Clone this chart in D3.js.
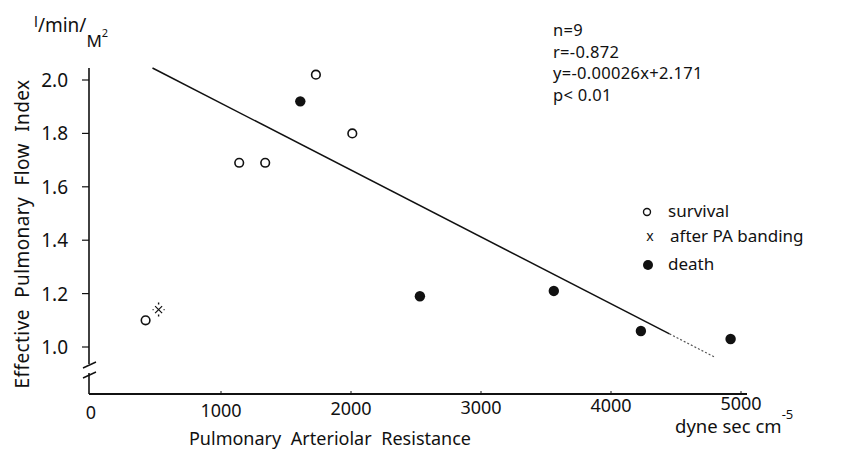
<!DOCTYPE html>
<html>
<head>
<meta charset="utf-8">
<script src="https://cdn.jsdelivr.net/npm/d3@7"></script>
<style>
  html, body { margin: 0; padding: 0; background: #fff; }
  svg text { font-family: "Noto Sans", "Open Sans", sans-serif; font-weight: 400; fill: #111; }
</style>
</head>
<body>
<div id="chart"></div>
<script>
// values
var survivalX = [420, 1140, 1340, 1730, 2010];
var survivalY = [1.10, 1.69, 1.69, 2.02, 1.80];
var bandingX = [520];
var bandingY = [1.14];
var deathX = [1610, 2530, 3560, 4230, 4920];
var deathY = [1.92, 1.19, 1.21, 1.06, 1.03];
var fitX = [473, 4794];
var fitY = [2.045, 0.963];
var fitFadeFrom = 4450;
var xTicks = [0, 1000, 2000, 3000, 4000, 5000];
var yTicks = [1.0, 1.2, 1.4, 1.6, 1.8, 2.0];
var statLines = ['n=9', 'r=-0.872', 'y=-0.00026x+2.171', 'p< 0.01'];
var legendLabels = ['survival', 'after PA banding', 'death'];

var width = 850, height = 454;

var svg = d3.select('#chart').append('svg')
  .attr('width', width)
  .attr('height', height);

var x = d3.scaleLinear().domain([0, 5000]).range([91, 741]);
var y = d3.scaleLinear().domain([1.0, 2.0]).range([347, 80]);

var axisY = 394, axisX = 89;

// y axis with break
var g = svg.append('g').attr('stroke', '#111').attr('fill', 'none');
g.append('line').attr('x1', axisX).attr('x2', axisX).attr('y1', 68).attr('y2', 364).attr('stroke-width', 1.6);
g.append('line').attr('x1', axisX).attr('x2', axisX).attr('y1', 373).attr('y2', axisY).attr('stroke-width', 1.6);
g.append('line').attr('x1', 83).attr('x2', 96).attr('y1', 368).attr('y2', 362).attr('stroke-width', 1.4);
g.append('line').attr('x1', 83).attr('x2', 96).attr('y1', 378).attr('y2', 372).attr('stroke-width', 1.4);
// x axis
g.append('line').attr('x1', axisX).attr('x2', 747).attr('y1', axisY).attr('y2', axisY).attr('stroke-width', 1.8);

g.selectAll('.ytick').data(yTicks).enter().append('line')
  .attr('x1', axisX - 7).attr('x2', axisX)
  .attr('y1', function (d) { return y(d); })
  .attr('y2', function (d) { return y(d); })
  .attr('stroke-width', 1.2);

g.selectAll('.xtick').data(xTicks.slice(1)).enter().append('line')
  .attr('x1', function (d) { return x(d); })
  .attr('x2', function (d) { return x(d); })
  .attr('y1', axisY - 3).attr('y2', axisY + 1)
  .attr('stroke-width', 1);

svg.selectAll('.ylab').data(yTicks).enter().append('text')
  .attr('x', 68)
  .attr('y', function (d) { return y(d) + 7; })
  .attr('text-anchor', 'end')
  .attr('font-size', 19)
  .text(function (d) { return d3.format('.1f')(d); });

svg.selectAll('.xlab').data(xTicks).enter().append('text')
  .attr('x', function (d) { return x(d); })
  .attr('y', function (d, i) { return 419 - i * 1.8; })
  .attr('text-anchor', 'middle')
  .attr('font-size', 18)
  .text(function (d) { return d; });

// axis titles
svg.append('text')
  .attr('transform', 'translate(29,234) rotate(-90)')
  .attr('text-anchor', 'middle')
  .attr('font-size', 19)
  .attr('letter-spacing', 0.4)
  .attr('word-spacing', 6)
  .text('Effective Pulmonary Flow Index');

svg.append('text')
  .attr('x', 330).attr('y', 445)
  .attr('text-anchor', 'middle')
  .attr('font-size', 18)
  .attr('word-spacing', 5)
  .text('Pulmonary Arteriolar Resistance');

var unitX = svg.append('text').attr('x', 675).attr('y', 433).attr('font-size', 18.5);
unitX.append('tspan').text('dyne sec cm');
unitX.append('tspan').attr('dy', -14).attr('font-size', 13).text('-5');

var unitY = svg.append('text').attr('x', 34).attr('font-size', 19);
unitY.append('tspan').attr('y', 27).attr('font-size', 15).text('l');
unitY.append('tspan').attr('y', 32).text('/min/');
unitY.append('tspan').attr('y', 47).attr('font-size', 17).text('M');
unitY.append('tspan').attr('y', 37).attr('font-size', 11).text('2');

// regression line
var fit = d3.scaleLinear().domain(fitX).range(fitY);
svg.append('line')
  .attr('x1', x(fitX[0])).attr('y1', y(fitY[0]))
  .attr('x2', x(fitFadeFrom)).attr('y2', y(fit(fitFadeFrom)))
  .attr('stroke', '#111').attr('stroke-width', 1.5);
svg.append('line')
  .attr('x1', x(fitFadeFrom)).attr('y1', y(fit(fitFadeFrom)))
  .attr('x2', x(fitX[1])).attr('y2', y(fitY[1]))
  .attr('stroke', '#555').attr('stroke-width', 1.2)
  .attr('stroke-dasharray', '2,2');

// points
svg.selectAll('.surv').data(d3.zip(survivalX, survivalY)).enter().append('circle')
  .attr('cx', function (d) { return x(d[0]); })
  .attr('cy', function (d) { return y(d[1]); })
  .attr('r', 4.3)
  .attr('fill', '#fff').attr('stroke', '#111').attr('stroke-width', 1.6);

svg.selectAll('.death').data(d3.zip(deathX, deathY)).enter().append('circle')
  .attr('cx', function (d) { return x(d[0]); })
  .attr('cy', function (d) { return y(d[1]); })
  .attr('r', 5.2)
  .attr('fill', '#111');

var band = svg.selectAll('.band').data(d3.zip(bandingX, bandingY)).enter().append('g')
  .attr('transform', function (d) { return 'translate(' + x(d[0]) + ',' + y(d[1]) + ')'; })
  .attr('stroke', '#111').attr('stroke-width', 1.2);
band.append('path').attr('d', 'M-3.5,-3.5L3.5,3.5M-3.5,3.5L3.5,-3.5');
band.append('path').attr('d', 'M0,-7L0,-5M0,5L0,7M-6,0L-5,0M5,0L6,0').attr('stroke-width', 1.4);

// statistics block
svg.selectAll('.stat').data(statLines).enter().append('text')
  .attr('x', 553)
  .attr('y', function (d, i) { return 36 + i * 21.5; })
  .attr('font-size', 16.5)
  .attr('letter-spacing', 0.3)
  .text(function (d) { return d; });

// legend
var legY = [212, 237, 265];
svg.append('circle').attr('cx', 647).attr('cy', legY[0]).attr('r', 3.5)
  .attr('fill', 'none').attr('stroke', '#111').attr('stroke-width', 1.4);
svg.append('text').attr('x', 650).attr('y', legY[1] + 4).attr('font-size', 14)
  .attr('text-anchor', 'middle').text('x');
svg.append('circle').attr('cx', 648).attr('cy', legY[2]).attr('r', 5).attr('fill', '#111');

svg.selectAll('.leg').data(legendLabels).enter().append('text')
  .attr('x', function (d, i) { return i === 1 ? 670 : 668; })
  .attr('y', function (d, i) { return legY[i] + 5; })
  .attr('font-size', 17)
  .text(function (d) { return d; });
</script>
</body>
</html>
